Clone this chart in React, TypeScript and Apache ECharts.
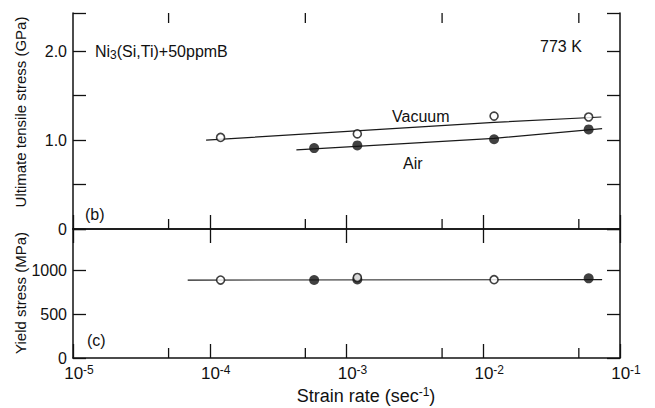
import React, { useEffect, useRef } from 'react';
import * as echarts from 'echarts';

// x: strain rate (sec^-1), log axis drawn in exponent space
const decadeExponents = [-5, -4, -3, -2, -1];
const minorTickRates = [5e-5, 5e-4, 5e-3, 5e-2];
// y tick labels
const utsTickLabels = ['0', '1.0', '2.0'];
const ysTickLabels = ['0', '500', '1000'];

// (b) ultimate tensile stress, GPa
const vacuumRates = [1.2e-4, 1.2e-3, 1.2e-2, 5.9e-2];
const vacuumUTS = [1.03, 1.07, 1.27, 1.26];
const airRates = [5.8e-4, 1.2e-3, 1.2e-2, 5.9e-2];
const airUTS = [0.91, 0.94, 1.01, 1.12];
const vacuumFitRates = [9.4e-5, 1.2e-2, 7.3e-2];
const vacuumFitUTS = [1.0, 1.2, 1.26];
const airFitRates = [4.3e-4, 1.2e-2, 7.4e-2];
const airFitUTS = [0.89, 1.02, 1.13];

// (c) yield stress, MPa
const vacuumYsRates = [1.2e-4, 1.2e-3, 1.2e-2];
const vacuumYS = [886, 915, 890];
const airYsRates = [5.8e-4, 1.2e-3, 5.9e-2];
const airYS = [886, 893, 905];
const ysFitRates = [6.9e-5, 7.4e-2];
const ysFit = [886, 890];

const FONT = '"Liberation Sans", Arial, sans-serif';
const INK = '#111';

const pts = (xs: number[], ys: number[]) => xs.map((x, i) => [Math.log10(x), ys[i]]);

export default function App() {
  const ref = useRef<HTMLDivElement>(null);
  useEffect(() => {
    if (!ref.current) return;
    const chart = echarts.init(ref.current, undefined, { renderer: 'svg' });
    const xMin = decadeExponents[0];
    const xMax = decadeExponents[decadeExponents.length - 1];
    const minorData = minorTickRates.map((r) => [Math.log10(r), 0]);
    const baseX = (grid: number, position: 'top' | 'bottom', labels: boolean) => ({
      type: 'value',
      gridIndex: grid,
      position,
      min: xMin,
      max: xMax,
      interval: 1,
      axisLine: { show: true, lineStyle: { color: INK, width: 1.5 } },
      axisTick: { show: true, inside: true, length: 14, lineStyle: { color: INK, width: 1.3 } },
      axisLabel: labels
        ? {
            show: true,
            margin: 6,
            formatter: (v: number) => `{p|}{b|10}{s|${Math.round(v)}}`,
            rich: {
              p: { width: 12 },
              b: { fontSize: 17, fontFamily: FONT, color: INK, verticalAlign: 'bottom', lineHeight: 18 },
              s: { fontSize: 12, fontFamily: FONT, color: INK, verticalAlign: 'top', lineHeight: 14, padding: [0, 0, 10, 0] },
            },
          }
        : { show: false },
      splitLine: { show: false },
    });
    const baseY = (grid: number, position: 'left' | 'right', max: number, interval: number, labels: string[] | null) => ({
      type: 'value',
      gridIndex: grid,
      position,
      min: 0,
      max,
      interval,
      axisLine: { show: true, lineStyle: { color: INK, width: 1.5 } },
      axisTick: { show: true, inside: true, length: 13, lineStyle: { color: INK, width: 1.3 } },
      axisLabel: labels
        ? {
            show: true,
            margin: 6,
            fontSize: 16,
            fontFamily: FONT,
            color: INK,
            formatter: (v: number) => {
              const s = v === 0 ? '0' : interval < 1 ? v.toFixed(1) : String(v);
              return labels.indexOf(s) >= 0 ? s : '';
            },
          }
        : { show: false },
      splitLine: { show: false },
    });

    const minorTicks = (xAxisIndex: number, yAxisIndex: number, withTop: boolean) => ({
      type: 'custom',
      xAxisIndex,
      yAxisIndex,
      data: minorData,
      clip: false,
      silent: true,
      z: 5,
      renderItem: (params: any, api: any) => {
        const x = api.coord([api.value(0), 0])[0];
        const cs = params.coordSys;
        const top = cs.y;
        const bottom = cs.y + cs.height;
        const st = { stroke: INK, lineWidth: 1.3 };
        const children: any[] = [{ type: 'line', shape: { x1: x, y1: bottom, x2: x, y2: bottom - 10 }, style: st }];
        if (withTop) children.push({ type: 'line', shape: { x1: x, y1: top, x2: x, y2: top + 10 }, style: st });
        return { type: 'group', children };
      },
    });

    const lineStyle = { color: '#1a1a1a', width: 1.2 };
    const option: any = {
      animation: false,
      backgroundColor: '#fff',
      grid: [
        { left: 73, top: 13, width: 547, height: 216 },
        { left: 73, top: 229, width: 547, height: 129 },
      ],
      xAxis: [baseX(0, 'bottom', false), baseX(0, 'top', false), baseX(1, 'bottom', true)],
      yAxis: [
        baseY(0, 'left', 2.43, 0.5, utsTickLabels),
        baseY(0, 'right', 2.43, 0.5, null),
        baseY(1, 'left', 1466, 500, ysTickLabels),
        baseY(1, 'right', 1466, 500, null),
      ],
      series: [
        minorTicks(0, 0, true),
        minorTicks(2, 2, false),
        { type: 'line', xAxisIndex: 0, yAxisIndex: 0, data: pts(vacuumFitRates, vacuumFitUTS), symbol: 'none', lineStyle, z: 2 },
        { type: 'line', xAxisIndex: 0, yAxisIndex: 0, data: pts(airFitRates, airFitUTS), symbol: 'none', lineStyle, z: 2 },
        { type: 'line', xAxisIndex: 2, yAxisIndex: 2, data: pts(ysFitRates, ysFit), symbol: 'none', lineStyle, z: 2 },
        {
          type: 'scatter', xAxisIndex: 0, yAxisIndex: 0, data: pts(airRates, airUTS), symbol: 'circle', symbolSize: 10,
          itemStyle: { color: INK }, z: 3,
        },
        {
          type: 'scatter', xAxisIndex: 0, yAxisIndex: 0, data: pts(vacuumRates, vacuumUTS), symbol: 'circle', symbolSize: 8,
          itemStyle: { color: '#fff', borderColor: INK, borderWidth: 1.6 }, z: 4,
        },
        {
          type: 'scatter', xAxisIndex: 2, yAxisIndex: 2, data: pts(airYsRates, airYS), symbol: 'circle', symbolSize: 10,
          itemStyle: { color: INK }, z: 3,
        },
        {
          type: 'scatter', xAxisIndex: 2, yAxisIndex: 2, data: pts(vacuumYsRates, vacuumYS), symbol: 'circle', symbolSize: 8,
          itemStyle: { color: '#fff', borderColor: INK, borderWidth: 1.6 }, z: 4,
        },
      ],
      graphic: [
        {
          type: 'text', x: 95, y: 52,
          style: {
            text: '{a|Ni}{b|3}{a|(Si,Ti)+50ppmB}', verticalAlign: 'middle', align: 'left',
            rich: {
              a: { fontSize: 16, fontFamily: FONT, fill: INK, verticalAlign: 'top', lineHeight: 18 },
              b: { fontSize: 12, fontFamily: FONT, fill: INK, verticalAlign: 'bottom', lineHeight: 14, padding: [8, 0, 0, 0] },
            },
          },
        },
        { type: 'text', x: 540, y: 46, style: { text: '773 K', fontSize: 16, fontFamily: FONT, fill: INK, verticalAlign: 'middle' } },
        { type: 'text', x: 392, y: 116, style: { text: 'Vacuum', fontSize: 16, fontFamily: FONT, fill: INK, verticalAlign: 'middle' } },
        { type: 'text', x: 403, y: 163, style: { text: 'Air', fontSize: 16, fontFamily: FONT, fill: INK, verticalAlign: 'middle' } },
        { type: 'text', x: 85, y: 214, style: { text: '(b)', fontSize: 16, fontFamily: FONT, fill: INK, verticalAlign: 'middle' } },
        { type: 'text', x: 87, y: 340, style: { text: '(c)', fontSize: 16, fontFamily: FONT, fill: INK, verticalAlign: 'middle' } },
        {
          type: 'text', x: 20, y: 112, rotation: Math.PI / 2,
          style: { text: 'Ultimate tensile stress (GPa)', fontSize: 15, fontFamily: FONT, fill: INK, align: 'center', verticalAlign: 'middle' },
        },
        {
          type: 'text', x: 20, y: 293, rotation: Math.PI / 2,
          style: { text: 'Yield stress (MPa)', fontSize: 15, fontFamily: FONT, fill: INK, align: 'center', verticalAlign: 'middle' },
        },
        {
          type: 'text', x: 366, y: 395,
          style: {
            text: '{a|Strain rate (sec}{s|-1}{a|)}', align: 'center', verticalAlign: 'middle',
            rich: {
              a: { fontSize: 18, fontFamily: FONT, fill: INK, verticalAlign: 'bottom', lineHeight: 19 },
              s: { fontSize: 12, fontFamily: FONT, fill: INK, verticalAlign: 'top', lineHeight: 14, padding: [0, 0, 8, 0] },
            },
          },
        },
      ],
    };
    chart.setOption(option);
    return () => chart.dispose();
  }, []);
  return <div ref={ref} style={{ position: 'fixed', left: 0, top: 0, width: 655, height: 408, background: '#fff' }} />;
}
